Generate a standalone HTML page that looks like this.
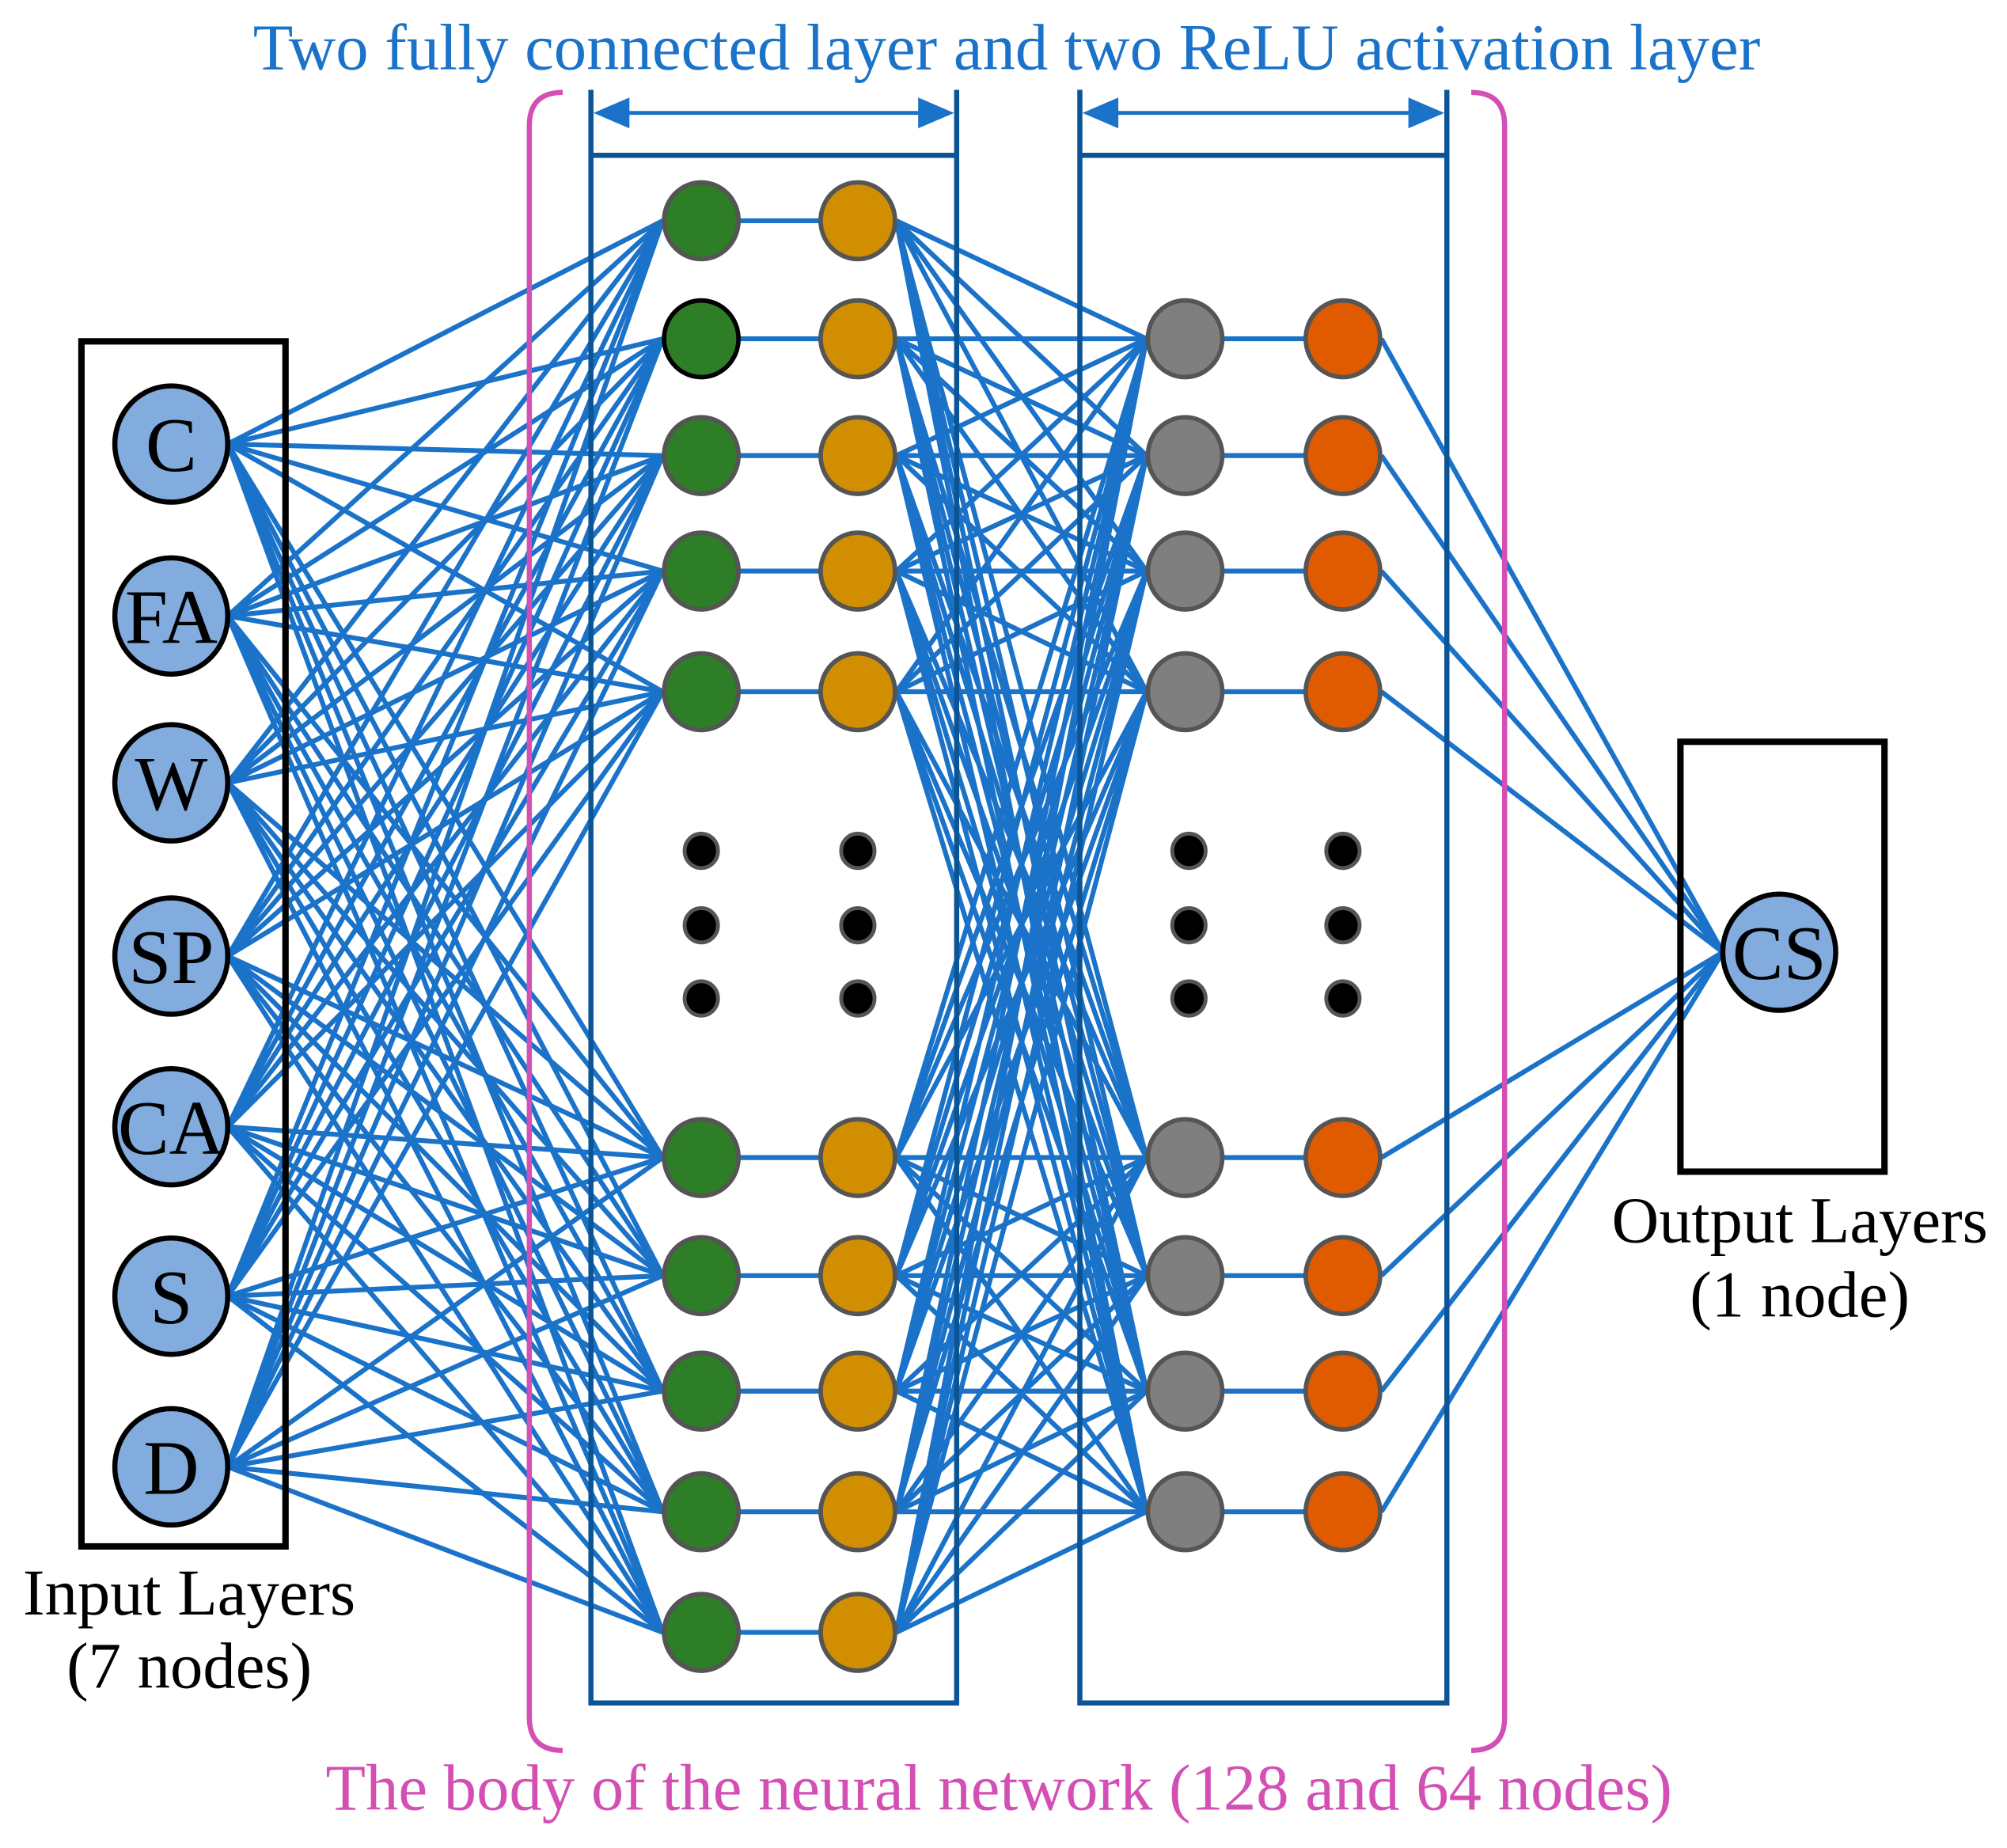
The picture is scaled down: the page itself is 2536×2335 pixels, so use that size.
<!DOCTYPE html>
<html><head><meta charset="utf-8"><style>
html,body{margin:0;padding:0;background:#fff;}
svg{display:block;}
text{font-family:"Liberation Serif",serif;}
</style></head><body>
<svg id="s" width="2536" height="2335" viewBox="0 0 1563 1440" xmlns="http://www.w3.org/2000/svg">
<rect x="0" y="0" width="1563" height="1440" fill="#fff"/>
<g id="lines" stroke="#1a72c9" stroke-width="3.8" fill="none"></g>
<g stroke="#0b5596" stroke-width="4" fill="none">
<path d="M460 70 V1327 H745 V70 M460 121 H745"/>
<path d="M841 70 V1327 H1127 V70 M841 121 H1127"/>
</g>
<g stroke="#1a72c9" stroke-width="3" fill="#1a72c9">
<line x1="478" y1="88" x2="727" y2="88"/>
<polygon points="462,88 490,76 490,100" stroke="none"/>
<polygon points="743,88 715,76 715,100" stroke="none"/>
<line x1="859" y1="88" x2="1109" y2="88"/>
<polygon points="843,88 871,76 871,100" stroke="none"/>
<polygon points="1125,88 1097,76 1097,100" stroke="none"/>
</g>
<g stroke="#d44fb4" stroke-width="4" fill="none">
<path d="M438 72 Q412 72 412 98 V1338 Q412 1364 438 1364"/>
<path d="M1146 72 Q1172 72 1172 98 V1338 Q1172 1364 1146 1364"/>
</g>
<rect x="63" y="266" width="159" height="939" fill="none" stroke="#000" stroke-width="5"/>
<rect x="1309" y="578" width="159" height="335" fill="none" stroke="#000" stroke-width="5"/>
<g id="nodes"></g>
<g font-size="60" fill="#000" text-anchor="middle">
<text x="133" y="367">C</text>
<text x="133" y="501">FA</text>
<text x="133" y="631">W</text>
<text x="133" y="766">SP</text>
<text x="133" y="899">CA</text>
<text x="133" y="1031">S</text>
<text x="133" y="1164">D</text>
<text x="1386" y="763">CS</text>
</g>
<g font-size="51" fill="#000" text-anchor="middle">
<text x="147" y="1258">Input Layers</text>
<text x="147" y="1315">(7 nodes)</text>
<text x="1402" y="968">Output Layers</text>
<text x="1402" y="1026">(1 node)</text>
</g>
<text x="784" y="54" font-size="51" fill="#1a72c9" text-anchor="middle">Two fully connected layer and two ReLU activation layer</text>
<text x="778" y="1410" font-size="51" fill="#d44fb4" text-anchor="middle">The body of the neural network (128 and 64 nodes)</text>
</svg>
<script>
(function(){
var NS="http://www.w3.org/2000/svg";
var L=document.getElementById("lines"),N=document.getElementById("nodes");
function ln(a,b,c,d){var e=document.createElementNS(NS,"line");e.setAttribute("x1",a);e.setAttribute("y1",b);e.setAttribute("x2",c);e.setAttribute("y2",d);L.appendChild(e);}
function ci(x,y,r,f,s,w){var e=document.createElementNS(NS,"ellipse");e.setAttribute("cx",x);e.setAttribute("cy",y);e.setAttribute("rx",r);e.setAttribute("ry",r*1.03);e.setAttribute("fill",f);e.setAttribute("stroke",s);e.setAttribute("stroke-width",w);N.appendChild(e);}
var inY=[346,480,610,745,878,1010,1143];
var l1=[172,264,355,445,539,902,994,1084,1178,1272];
var l2=[264,355,445,539,902,994,1084,1178];
inY.forEach(function(y){l1.forEach(function(z){ln(177,y,516,z);});});
l1.forEach(function(y){ln(546,y,668,y);});
l1.forEach(function(y){l2.forEach(function(z){ln(698,y,893,z);});});
l2.forEach(function(y){ln(923,y,1046,y);});
l2.forEach(function(y){ln(1076,y,1342,742);});
inY.forEach(function(y){ci(133,y,44,"#82abde","#000",4);});
ci(1386,742,44,"#82abde","#000",4);
l1.forEach(function(y,i){ci(546,y,29,"#2e7d27",i==1?"#000":"#555",3.5);ci(668,y,29,"#d08e00","#555",3.5);});
l2.forEach(function(y){ci(923,y,29,"#7f7f7f","#555",3.5);ci(1046,y,29,"#e05a00","#555",3.5);});
[663,721,778].forEach(function(y){[546,668,926,1046].forEach(function(x){ci(x,y,13,"#000","#555",3);});});
})();
</script>
</body></html>
